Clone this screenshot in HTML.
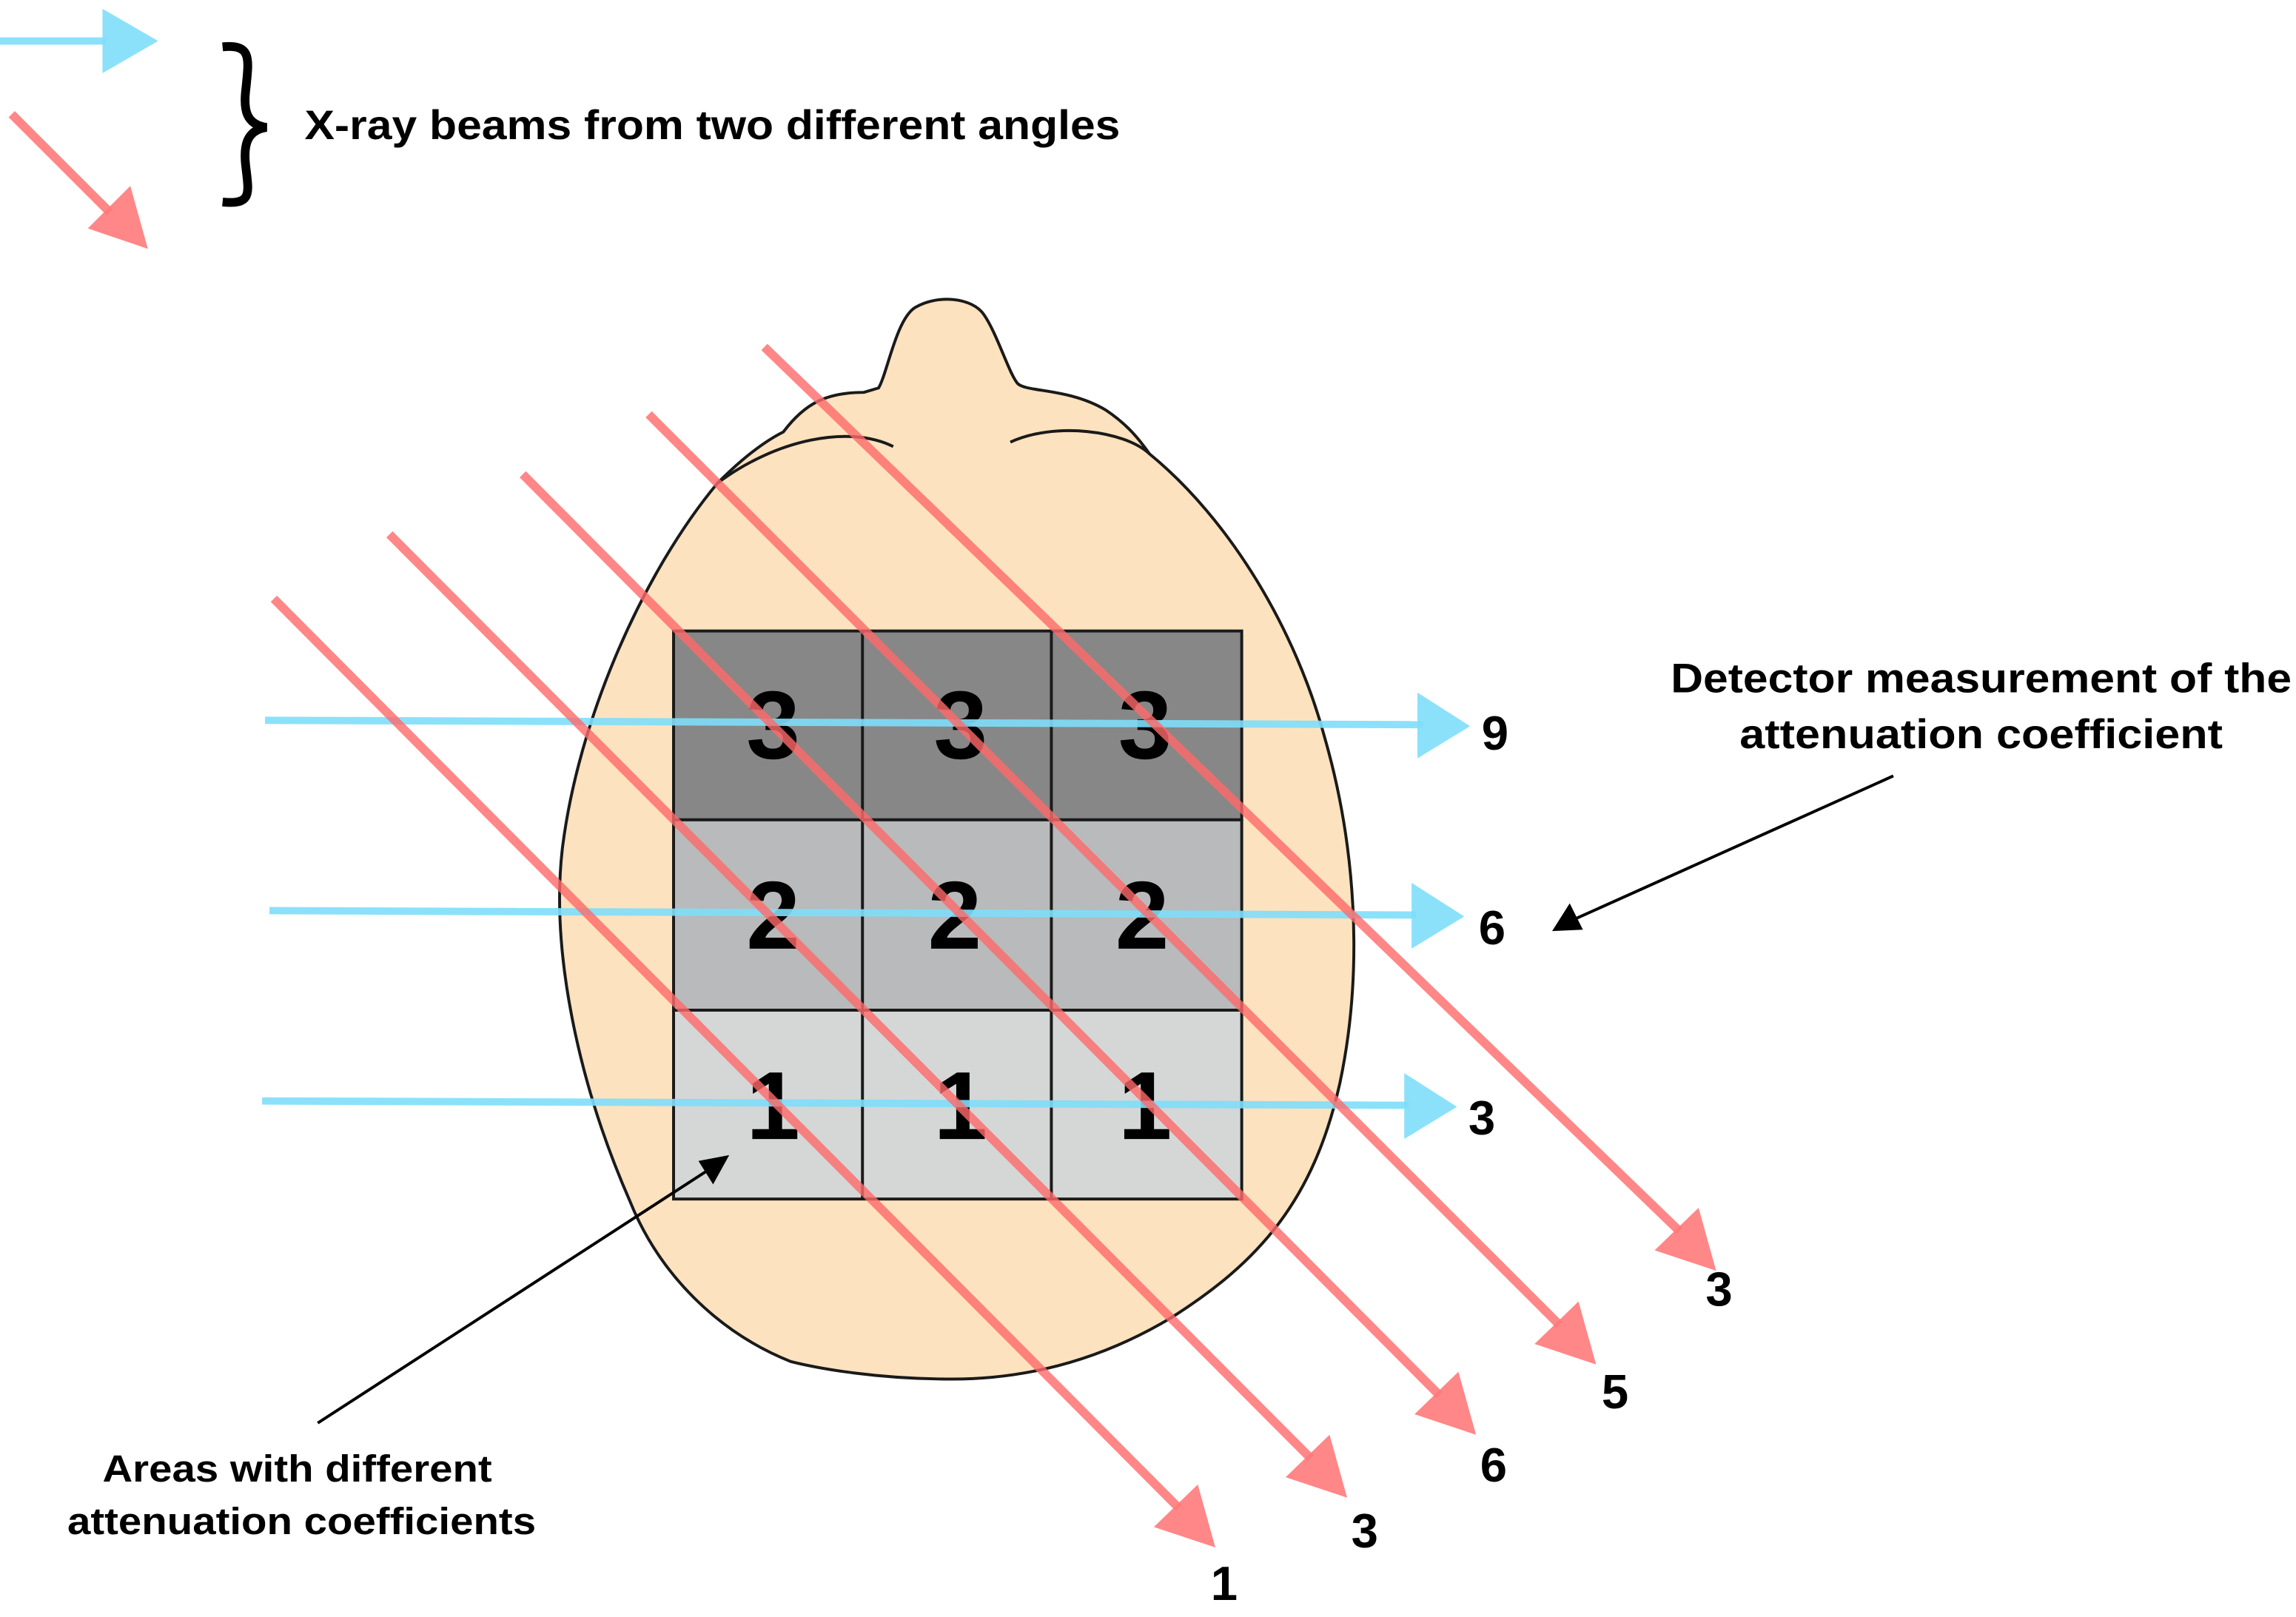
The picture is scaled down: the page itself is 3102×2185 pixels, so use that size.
<!DOCTYPE html>
<html><head><meta charset="utf-8"><style>
html,body{margin:0;padding:0;background:#fff;}
svg{display:block;}
text{font-family:"Liberation Sans",sans-serif;font-weight:bold;fill:#000;}
</style></head><body>
<svg width="3102" height="2185" viewBox="0 0 1568 1104.5" preserveAspectRatio="none" xmlns="http://www.w3.org/2000/svg">
<!-- head -->
<path d="M600,265 C606,255 612,218 625,210 C640,201 664,203 672,215 C681,228 689,255 695,262 C701,268 730,265 755,280 C770,290 778,300 785,310 C840,355 885,430 905,505 C925,575 932,660 915,740 C897,820 860,862 800,900 C750,930 700,942 650,942 C600,942 560,935 540,930 C490,910 450,870 430,820 C395,740 376,650 384,580 C395,490 440,390 490,330 C510,310 525,300 535,295 C550,275 565,268 590,268 Z" fill="#fde2bf" stroke="#1a1a1a" stroke-width="2"/>
<path d="M490,330 C530,300 580,290 610,305" fill="none" stroke="#1a1a1a" stroke-width="2"/>
<path d="M690,302 C720,288 768,294 785,310" fill="none" stroke="#1a1a1a" stroke-width="2"/>
<!-- grid -->
<g stroke="#1a1a1a" stroke-width="2">
<rect x="460" y="431" width="388" height="129" fill="#878787"/>
<rect x="460" y="560" width="388" height="130" fill="#b8babb"/>
<rect x="460" y="690" width="388" height="129" fill="#d5d6d6"/>
<line x1="589" y1="431" x2="589" y2="819"/>
<line x1="718" y1="431" x2="718" y2="819"/>
</g>
<g font-size="66" text-anchor="middle">
<text x="528" y="518">3</text><text x="656" y="518">3</text><text x="782" y="518">3</text>
<text x="528" y="648">2</text><text x="652" y="648">2</text><text x="780" y="648">2</text>
<text x="528" y="778">1</text><text x="656" y="778">1</text><text x="782" y="778">1</text>
</g>
<!-- blue beams -->
<g stroke="#7fdefa" stroke-width="5" opacity="0.9" fill="#7fdefa">
<line x1="181" y1="492" x2="972" y2="495"/>
<line x1="184" y1="622" x2="967" y2="625"/>
<line x1="179" y1="752" x2="962" y2="755"/>
<line x1="0" y1="28" x2="72" y2="28"/>
</g>
<g fill="#7fdefa" opacity="0.9">
<polygon points="968,473 1004,496 968,518"/>
<polygon points="964,603 1000,626 964,648"/>
<polygon points="959,733 995,756 959,778"/>
<polygon points="70,6 108,28 70,50"/>
</g>
<!-- red beams -->
<g stroke="#ff6a6a" stroke-width="6" opacity="0.8">
<line x1="187" y1="409" x2="805" y2="1030"/>
<line x1="266" y1="365" x2="895" y2="996"/>
<line x1="357" y1="324" x2="983" y2="953"/>
<line x1="443" y1="283" x2="1065" y2="905"/>
<line x1="522" y1="237" x2="1147" y2="841"/>
<line x1="8" y1="78" x2="75" y2="145"/>
</g>
<g fill="#ff7a7a" opacity="0.9">
<polygon points="788,1043 818,1014 830,1057"/>
<polygon points="878,1009 908,980 920,1023"/>
<polygon points="966,966 996,937 1008,980"/>
<polygon points="1048,918 1078,889 1090,932"/>
<polygon points="1130,854 1160,825 1172,868"/>
<polygon points="60,156 89,127 101,170"/>
</g>
<g font-size="33" text-anchor="middle">
<text x="1021" y="512">9</text>
<text x="1019" y="645">6</text>
<text x="1012" y="775">3</text>
<text x="836" y="1093">1</text>
<text x="932" y="1057">3</text>
<text x="1020" y="1012">6</text>
<text x="1103" y="962">5</text>
<text x="1174" y="892">3</text>
</g>
<!-- brace -->
<path d="M152,32 C172,30 170,40 168,60 C166,75 168,85 182,87 C168,89 166,100 168,115 C170,132 172,140 152,138" fill="none" stroke="#000" stroke-width="6"/>
<text x="208" y="95" font-size="28" textLength="557" lengthAdjust="spacingAndGlyphs">X-ray beams from two different angles</text>
<text x="1353" y="473" font-size="28" text-anchor="middle" textLength="424" lengthAdjust="spacingAndGlyphs">Detector measurement of the</text>
<text x="1353" y="511" font-size="28" text-anchor="middle" textLength="330" lengthAdjust="spacingAndGlyphs">attenuation coefficient</text>
<text x="203" y="1012" font-size="26" text-anchor="middle" textLength="266" lengthAdjust="spacingAndGlyphs">Areas with different</text>
<text x="206" y="1048" font-size="26" text-anchor="middle" textLength="320" lengthAdjust="spacingAndGlyphs">attenuation coefficients</text>
<!-- pointer arrows -->
<line x1="1293" y1="530" x2="1075" y2="628" stroke="#000" stroke-width="2"/>
<polygon points="1060,636 1072,617 1081,635" fill="#000"/>
<line x1="217" y1="972" x2="484" y2="799" stroke="#000" stroke-width="2"/>
<polygon points="498,789 487,809 477,793" fill="#000"/>
</svg>
</body></html>
